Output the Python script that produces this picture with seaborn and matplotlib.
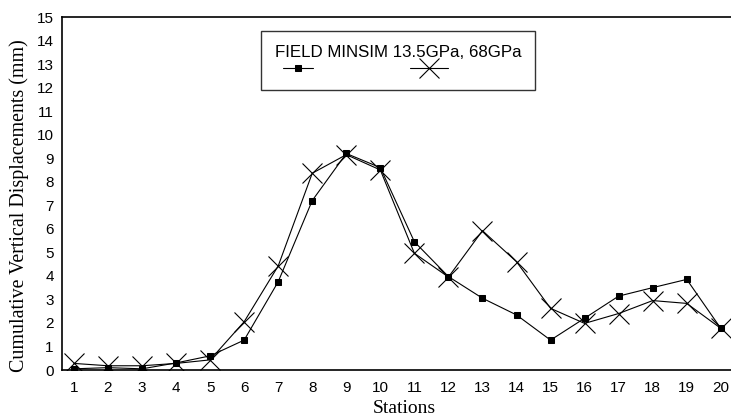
import matplotlib
matplotlib.use("Agg")
import matplotlib.pyplot as plt
from matplotlib.legend_handler import HandlerLine2D
import seaborn as sns
import pandas as pd

stations = list(range(1, 21))
field = [0.05, 0.1, 0.05, 0.3, 0.6, 1.27, 3.75, 7.2, 9.2, 8.6,
         5.45, 3.97, 3.05, 2.34, 1.27, 2.2, 3.14, 3.5, 3.85, 1.77]
minsim = [0.28, 0.18, 0.18, 0.28, 0.43, 2.05, 4.42, 8.36, 9.15, 8.5,
          4.96, 3.95, 5.92, 4.6, 2.62, 1.98, 2.4, 2.95, 2.83, 1.77]
y_ticks = list(range(0, 16))
legend_title = "FIELD MINSIM 13.5GPa, 68GPa"

sns.set_theme(style="white")
plt.rcParams['font.family'] = ['Liberation Sans', 'DejaVu Sans']
plt.rcParams['text.color'] = 'black'
plt.rcParams['axes.labelcolor'] = 'black'

fig = plt.figure(figsize=(7.31, 4.19), dpi=100)
ax = fig.add_axes([62/731, 49/419, 669/731, 353/419])

df_f = pd.DataFrame({"x": stations, "y": field})
df_m = pd.DataFrame({"x": stations, "y": minsim})
sns.lineplot(data=df_f, x="x", y="y", ax=ax, color="black", lw=0.8,
             marker="s", markersize=5, markeredgecolor="black", label="_f")
sns.lineplot(data=df_m, x="x", y="y", ax=ax, color="black", lw=0.8,
             marker="x", markersize=15, markeredgewidth=0.8, markeredgecolor="black", label="_m")

ax.set_xlim(0.65, 20.3)
ax.set_ylim(0, 15)
ax.set_xticks(stations)
ax.set_yticks(y_ticks)
ax.tick_params(axis="both", direction="in", length=4, width=0.8, labelsize=11, colors="black")
ax.tick_params(axis="x", pad=8)
ax.tick_params(axis="y", pad=6)
for s in ["left", "bottom", "top"]:
    ax.spines[s].set_color("black")
    ax.spines[s].set_linewidth(1.2)
ax.spines["right"].set_visible(False)

ax.set_xlabel("Stations", family=["Liberation Serif"], fontsize=14, color="black")
ax.set_ylabel("Cumulative Vertical Displacements (mm)", family=["Liberation Serif"], fontsize=14.4, color="black")
ax.xaxis.set_label_coords((404 - 62) / 669, -0.085)
ax.yaxis.set_label_coords(-0.05, 0.467)

lines = ax.get_lines()
fs = 11
px = fs * 100 / 72
leg = ax.legend(handles=[lines[0], lines[1]], labels=["", ""], title=legend_title,
                ncol=2, loc="upper left", bbox_to_anchor=(261/731, 1 - 31/419),
                bbox_transform=fig.transFigure, frameon=True, fancybox=False,
                edgecolor="black", prop={"size": fs},
                handlelength=38 / px, columnspacing=97 / px,
                handletextpad=0.0, borderpad=0.9, borderaxespad=0.0,
                labelspacing=0.15, alignment="left",
                handler_map={lines[0]: HandlerLine2D(xpad=8 / px)})
leg.get_title().set_fontsize(12.2)
leg.get_title().set_color("black")
leg.get_frame().set_linewidth(1.0)

fig.savefig("out.png", dpi=100)
